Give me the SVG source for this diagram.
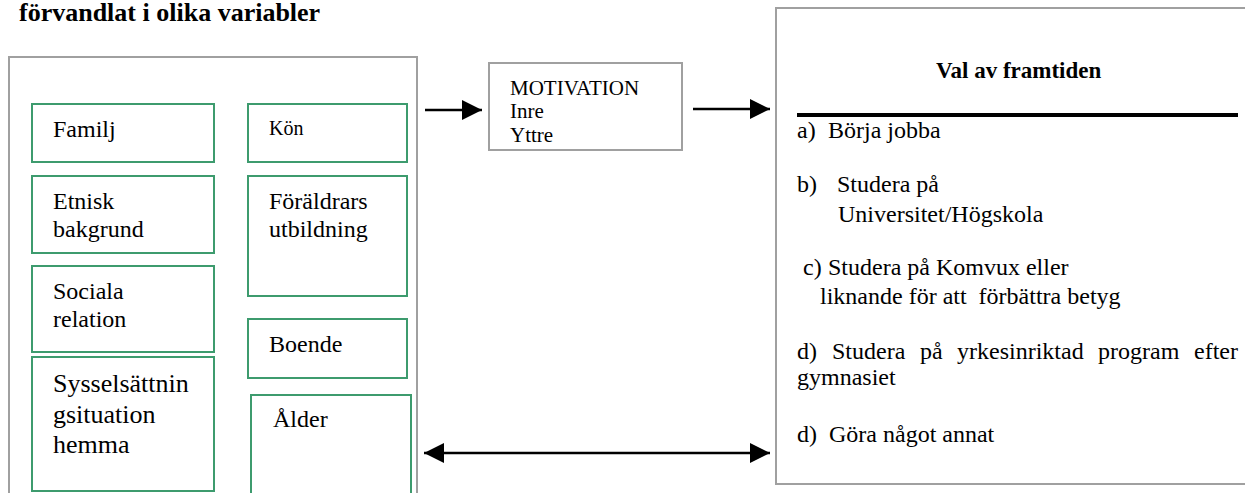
<svg xmlns="http://www.w3.org/2000/svg" width="1245" height="493" viewBox="0 0 1245 493" font-family="'Liberation Serif', 'DejaVu Serif', serif">
<style>
text{font-family:'Liberation Serif','DejaVu Serif',serif;fill:#000}
.b{font-weight:bold}
.t24{font-size:24px}
.frame{fill:#fff;stroke:#a0a0a0;stroke-width:2}
.var{fill:#fff;stroke:#3d9b6e;stroke-width:2}
.conn{stroke:#000;stroke-width:2.5;fill:none}
</style>
<defs>
<marker id="ah" markerUnits="userSpaceOnUse" markerWidth="20" markerHeight="20" refX="20" refY="10" orient="auto-start-reverse" viewBox="0 0 20 20">
<path d="M0,0 L20,10 L0,20 z" fill="#000"/>
</marker>
</defs>
<rect width="1245" height="493" fill="#fff"/>
<text id="title" class="b" x="19" y="21" font-size="26">förvandlat i olika variabler</text>

<g id="factors">
<rect class="frame" x="9" y="57" width="408" height="450"/>
</g>

<g id="familj"><rect class="var" x="32" y="104" width="182" height="58"/><text class="t24" x="53" y="137">Familj</text></g>
<g id="kon"><rect class="var" x="248" y="104" width="159" height="58"/><text x="269" y="135" font-size="20">Kön</text></g>
<g id="etnisk"><rect class="var" x="32" y="176" width="182" height="77"/><text class="t24" x="53" y="209">Etnisk</text><text class="t24" x="53" y="237">bakgrund</text></g>
<g id="foraldrar"><rect class="var" x="248" y="176" width="159" height="120"/><text class="t24" x="269" y="209">Föräldrars</text><text class="t24" x="269" y="237">utbildning</text></g>
<g id="sociala"><rect class="var" x="32" y="266" width="182" height="86"/><text class="t24" x="53" y="299">Sociala</text><text class="t24" x="53" y="327">relation</text></g>
<g id="boende"><rect class="var" x="248" y="319" width="159" height="59"/><text class="t24" x="269" y="352">Boende</text></g>
<g id="syssel"><rect class="var" x="32" y="357" width="182" height="134"/><text x="53" y="392" font-size="26">Sysselsättnin</text><text x="53" y="423" font-size="26">gsituation</text><text x="53" y="453" font-size="26">hemma</text></g>
<g id="alder"><rect class="var" x="251" y="395" width="160" height="110"/><text class="t24" x="273" y="427">Ålder</text></g>

<g id="motivation">
<rect class="frame" x="489" y="63" width="193" height="87"/>
<text x="510" y="95" font-size="21">MOTIVATION</text>
<text x="510" y="118" font-size="21">Inre</text>
<text x="510" y="142" font-size="21">Yttre</text>
</g>

<g id="val">
<rect class="frame" x="776" y="8" width="480" height="476"/>
<text class="b" x="936" y="78" font-size="23">Val av framtiden</text>
<line x1="797" y1="115" x2="1238" y2="115" stroke="#000" stroke-width="4"/>
<text class="t24" x="797" y="138">a)</text><text class="t24" x="828" y="138">Börja jobba</text>
<text class="t24" x="797" y="192">b)</text><text class="t24" x="837" y="192">Studera på</text>
<text class="t24" x="838" y="222">Universitet/Högskola</text>
<text class="t24" x="803" y="275">c)</text><text class="t24" x="828" y="275">Studera på Komvux eller</text>
<text class="t24" x="820" y="304" xml:space="preserve">liknande för att  förbättra betyg</text>
<text class="t24" y="359"><tspan x="797">d)</tspan><tspan x="832">Studera</tspan><tspan x="920">på</tspan><tspan x="957">yrkesinriktad</tspan><tspan x="1098">program</tspan><tspan x="1194">efter</tspan></text>
<text class="t24" x="797" y="385">gymnasiet</text>
<text class="t24" x="797" y="442">d)</text><text class="t24" x="829" y="442">Göra något annat</text>
</g>

<g id="connectors">
<line class="conn" x1="425" y1="110" x2="482" y2="110" marker-end="url(#ah)"/>
<line class="conn" x1="693" y1="109" x2="770" y2="109" marker-end="url(#ah)"/>
<line class="conn" x1="424" y1="453" x2="770" y2="453" marker-start="url(#ah)" marker-end="url(#ah)"/>
</g>
</svg>
